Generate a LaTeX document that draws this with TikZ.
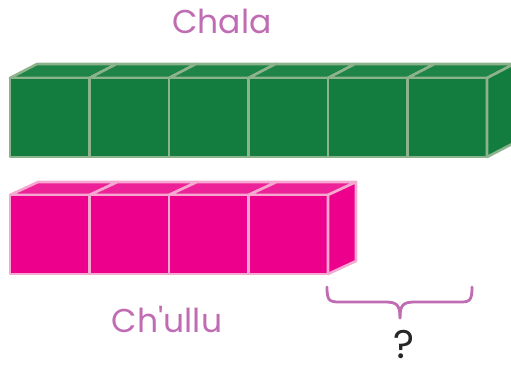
\documentclass[tikz,border=0pt]{standalone}
\usepackage{fontspec}
\setmainfont{Poppins}[Ligatures=TeXOff]
\definecolor{gfill}{HTML}{137D40}
\definecolor{gtop}{HTML}{1E8448}
\definecolor{gedge}{HTML}{8DB38D}
\definecolor{pfill}{HTML}{EC008C}
\definecolor{ptop}{HTML}{EE2298}
\definecolor{pedge}{HTML}{F5A8D0}
\definecolor{lab}{HTML}{C06CB2}
\tikzset{
  gface/.style={fill=gfill, draw=gedge, line width=2.6pt, line join=round},
  gtopface/.style={fill=gtop, draw=gedge, line width=2.6pt, line join=round},
  pface/.style={fill=pfill, draw=pedge, line width=2.6pt, line join=round},
  ptopface/.style={fill=ptop, draw=pedge, line width=2.6pt, line join=round},
  lbl/.style={text=lab, font=\fontsize{33}{36}\selectfont, inner sep=0pt},
  brace/.style={draw=lab, line width=2.8pt, line cap=round, line join=round}
}
\begin{document}
\begin{tikzpicture}[x=1pt,y=-1pt]
\useasboundingbox (0,0) rectangle (511,364);
\begin{scope}
\clip (0,0) rectangle (511,364);
% green bar: 6 cubes
\foreach \i in {0,...,5}{
  \pgfmathsetmacro{\xa}{10+79.5*\i}
  \pgfmathsetmacro{\xb}{10+79.5*(\i+1)}
  \draw[gtopface] (\xa,78) -- (\xa+27,64) -- (\xb+27,64) -- (\xb,78) -- cycle;
  \draw[gface] (\xa,78) rectangle (\xb,157);
}
\draw[gface] (487,78) -- (514,64) -- (514,143) -- (487,157) -- cycle;
% pink bar: 4 cubes
\foreach \i in {0,...,3}{
  \pgfmathsetmacro{\xa}{10+79.5*\i}
  \pgfmathsetmacro{\xb}{10+79.5*(\i+1)}
  \draw[ptopface] (\xa,195) -- (\xa+28,182) -- (\xb+28,182) -- (\xb,195) -- cycle;
  \draw[pface] (\xa,195) rectangle (\xb,274);
}
\draw[pface] (328,195) -- (356,182) -- (356,261) -- (328,274) -- cycle;
\end{scope}
% brace
\coordinate (bl) at (327,287);
\coordinate (br) at (472,287);
\coordinate (bt) at (400,318);
\draw[brace] (bl) .. controls (327,303) and (330,302) .. (345,302)
  -- (385,302) .. controls (397,302) and (400,305) .. (bt);
\draw[brace] (br) .. controls (472,303) and (469,302) .. (455,302)
  -- (415,302) .. controls (403,302) and (400,305) .. (bt);
% labels
\node[lbl, anchor=base] (chala) at (222,33) {Chala};
\node[lbl, anchor=base] (chullu) at (167,332) {Ch'ullu};
\node[text=black!85, font=\fontsize{40}{44}\selectfont, inner sep=0pt, anchor=north] (q) at (404,330) {?};
\end{tikzpicture}
\end{document}
